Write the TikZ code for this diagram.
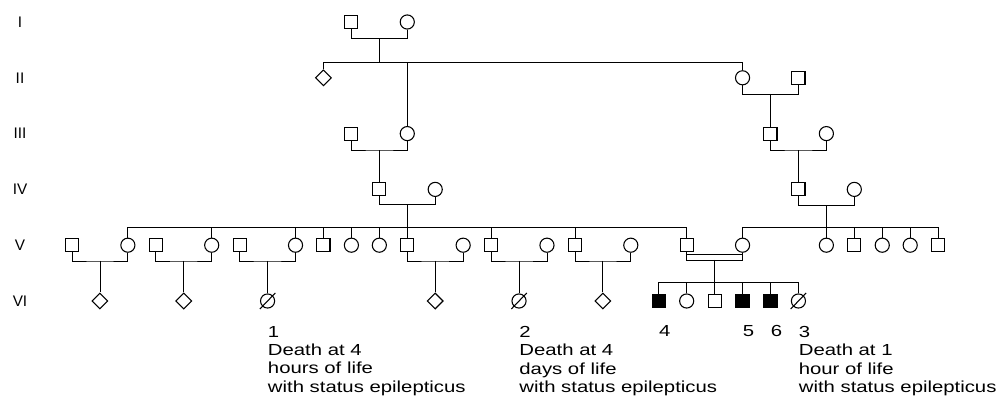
\documentclass[tikz,border=0pt]{standalone}
\usepackage{fontspec}
\setmainfont{Liberation Sans}
\newfontfamily\notefont[FakeStretch=1.27]{Liberation Sans}
\usetikzlibrary{positioning,shapes.geometric}

\begin{document}
\begin{tikzpicture}[x=20.955pt,y=-41.85pt,line width=0.6pt,node distance=13pt,
    male node/.style={rectangle,draw,line width=0.8pt,fill=white,minimum size=9.8pt,inner sep=0pt},
    female node/.style={circle,draw,line width=0.8pt,fill=white,minimum size=10.6pt,inner sep=0pt},
    unknown node/.style={diamond,aspect=1,draw,line width=0.8pt,fill=white,minimum size=12pt,inner sep=0pt},
    affected node/.style={male node,fill=black},
    gen label/.style={font=\fontsize{11.5pt}{13pt}\selectfont,inner sep=0pt},
    note/.style={font=\notefont\fontsize{12pt}{13.7pt}\selectfont,align=left,inner sep=0pt,anchor=north west}]
  \useasboundingbox (-2.577,-0.3943) rectangle (33.322,6.7025);

  % generations
  \node[gen label] (g1) at (-1.861,0) {I};
  \node[gen label] (g2) at (-1.861,1) {II};
  \node[gen label] (g3) at (-1.861,2) {III};
  \node[gen label] (g4) at (-1.861,3) {IV};
  \node[gen label] (g5) at (-1.861,4) {V};
  \node[gen label] (g6) at (-1.861,5) {VI};

  % I
  \node[male node] (i1) at (10,0) {};
  \node[female node] (i2) at (12,0) {};

  % II
  \node[unknown node] (ii1) at (9,1) {};
  \node[female node] (ii2) at (24,1) {};
  \node[male node] (ii3) at (26,1) {};

  % III
  \node[male node] (iii1) at (10,2) {};
  \node[female node] (iii2) at (12,2) {};
  \node[male node] (iii3) at (25,2) {};
  \node[female node] (iii4) at (27,2) {};

  % IV
  \node[male node] (iv1) at (11,3) {};
  \node[female node] (iv2) at (13,3) {};
  \node[male node] (iv3) at (26,3) {};
  \node[female node] (iv4) at (28,3) {};

  % V
  \node[male node] (v0) at (0,4) {};
  \node[female node] (v2) at (2,4) {};
  \node[male node] (v3) at (3,4) {};
  \node[female node] (v5) at (5,4) {};
  \node[male node] (v6) at (6,4) {};
  \node[female node] (v8) at (8,4) {};
  \node[male node] (v9) at (9,4) {};
  \node[female node] (v10) at (10,4) {};
  \node[female node] (v11) at (11,4) {};
  \node[male node] (v12) at (12,4) {};
  \node[female node] (v14) at (14,4) {};
  \node[male node] (v15) at (15,4) {};
  \node[female node] (v17) at (17,4) {};
  \node[male node] (v18) at (18,4) {};
  \node[female node] (v20) at (20,4) {};
  \node[male node] (v22) at (22,4) {};
  \node[female node] (v24) at (24,4) {};
  \node[female node] (v27) at (27,4) {};
  \node[male node] (v28) at (28,4) {};
  \node[female node] (v29) at (29,4) {};
  \node[female node] (v30) at (30,4) {};
  \node[male node] (v31) at (31,4) {};

  % VI
  \node[unknown node] (vi1) at (1,5) {};
  \node[unknown node] (vi4) at (4,5) {};
  \node[female node] (vi7) at (7,5) {};
  \node[unknown node] (vi13) at (13,5) {};
  \node[female node] (vi16) at (16,5) {};
  \node[unknown node] (vi19) at (19,5) {};
  \node[affected node] (vi21) at (21,5) {};
  \node[female node] (vi22) at (22,5) {};
  \node[male node] (vi23) at (23,5) {};
  \node[affected node] (vi24) at (24,5) {};
  \node[affected node] (vi25) at (25,5) {};
  \node[female node] (vi26) at (26,5) {};

  % deceased
  \draw[line width=0.8pt] ([shift={(-5.8pt,-6pt)}]vi7.center) -- ([shift={(5.8pt,6pt)}]vi7.center);
  \draw[line width=0.8pt] ([shift={(-5.8pt,-6pt)}]vi16.center) -- ([shift={(5.8pt,6pt)}]vi16.center);
  \draw[line width=0.8pt] ([shift={(-5.8pt,-6pt)}]vi26.center) -- ([shift={(5.8pt,6pt)}]vi26.center);

  % I -> II
  \coordinate (m1) at (11,0.287);
  \coordinate (s2) at (11,0.717);
  \draw (i1.south) |- (m1) -| (i2.south);
  \draw (m1) -- (s2);
  \draw (ii1.north) |- (s2);
  \draw (iii2.north) |- (s2);
  \draw (ii2.north) |- (s2);

  % right branch
  \coordinate (m2) at (25,1.29);
  \draw (ii2.south) |- (m2) -| (ii3.south);
  \draw (m2) -- (iii3.north);
  \coordinate (m3) at (26,2.294);
  \draw (iii3.south) |- (m3) -| (iii4.south);
  \draw (m3) -- (iv3.north);
  \coordinate (m4) at (27,3.28);
  \draw (iv3.south) |- (m4) -| (iv4.south);
  \coordinate (s5r) at (27,3.674);
  \draw (m4) -- (v27.north);
  \draw (v24.north) |- (s5r);
  \draw (v28.north) |- (s5r);
  \draw (v29.north) |- (s5r);
  \draw (v30.north) |- (s5r);
  \draw (v31.north) |- (s5r);

  % left branch
  \coordinate (m5) at (11,2.294);
  \draw (iii1.south) |- (m5) -| (iii2.south);
  \draw (m5) -- (iv1.north);
  \coordinate (m6) at (12,3.262);
  \draw (iv1.south) |- (m6) -| (iv2.south);
  \coordinate (s5l) at (12,3.674);
  \draw (m6) -- (v12.north);
  \draw (v2.north) |- (s5l);
  \draw (v5.north) |- (s5l);
  \draw (v8.north) |- (s5l);
  \draw (v9.north) |- (s5l);
  \draw (v10.north) |- (s5l);
  \draw (v11.north) |- (s5l);
  \draw (v15.north) |- (s5l);
  \draw (v18.north) |- (s5l);
  \draw (v22.north) |- (s5l);

  % V -> VI
  \coordinate (m7) at (1,4.283);
  \draw (v0.south) |- (m7) -| (v2.south);
  \draw (m7) -- (vi1.north);
  \coordinate (m8) at (4,4.283);
  \draw (v3.south) |- (m8) -| (v5.south);
  \draw (m8) -- (vi4.north);
  \coordinate (m9) at (7,4.283);
  \draw (v6.south) |- (m9) -| (v8.south);
  \draw (m9) -- (vi7.north);
  \coordinate (m10) at (13,4.283);
  \draw (v12.south) |- (m10) -| (v14.south);
  \draw (m10) -- (vi13.north);
  \coordinate (m11) at (16,4.283);
  \draw (v15.south) |- (m11) -| (v17.south);
  \draw (m11) -- (vi16.north);
  \coordinate (m12) at (19,4.283);
  \draw (v18.south) |- (m12) -| (v20.south);
  \draw (m12) -- (vi19.north);

  % consanguineous couple
  \coordinate (m13) at (23,4.158);
  \coordinate (m14) at (23,4.265);
  \draw (v22.south) |- (m14) -| (v24.south);
  \draw (v22.south |- m13) -- (v24.south |- m13);
  \coordinate (s6) at (23,4.659);
  \draw (m14) -- (vi23.north);
  \draw (vi21.north) |- (s6);
  \draw (vi22.north) |- (s6);
  \draw (vi24.north) |- (s6);
  \draw (vi25.north) |- (s6);
  \draw (vi26.north) |- (s6);

  % notes
  \node[note] (t1) [below=of vi7.south,anchor=north west] {1\\Death at 4\\hours of life\\with status epilepticus};
  \node[note] (t2) [below=of vi16.south,anchor=north west] {2\\Death at 4\\days of life\\with status epilepticus};
  \node[note] (t3) [below=of vi26.south,anchor=north west] {3\\Death at 1\\hour of life\\with status epilepticus};
  \node[note] (t4) [below=of vi21.south,anchor=north west] {4};
  \node[note] (t5) [below=of vi24.south,anchor=north west] {5};
  \node[note] (t6) [below=of vi25.south,anchor=north west] {6};
\end{tikzpicture}
\end{document}
